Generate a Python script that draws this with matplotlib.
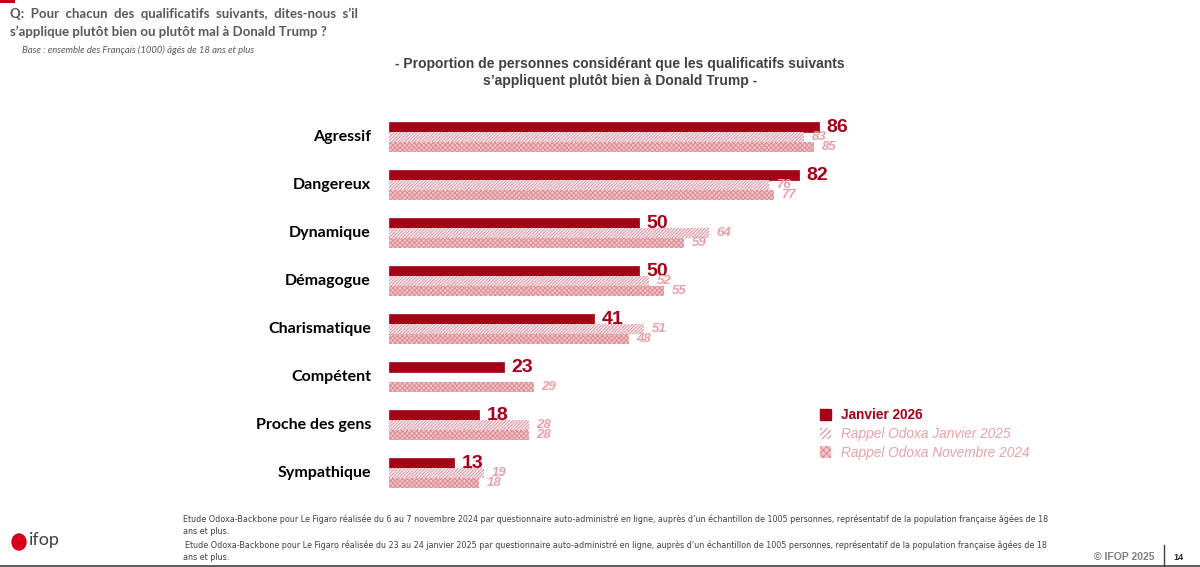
import numpy as np
import matplotlib
matplotlib.use("Agg")
import matplotlib.pyplot as plt
from matplotlib.patches import Rectangle, Ellipse
from matplotlib.lines import Line2D

# Données
categories = ["Agressif", "Dangereux", "Dynamique", "Démagogue",
              "Charismatique", "Compétent", "Proche des gens", "Sympathique"]
janv_2026 = [86, 82, 50, 50, 41, 23, 18, 13]
janv_2025 = [83, 76, 64, 52, 51, None, 28, 19]
nov_2024 = [85, 77, 59, 55, 48, 29, 28, 18]

series_labels = ["Janvier 2026", "Rappel Odoxa Janvier 2025", "Rappel Odoxa Novembre 2024"]

DARK = "#A50018"
PINK = "#E08E98"
PINK_TXT = "#E8A0A8"
PINK_FILL = "#F3C9CE"
GREY = "#595959"

plt.rcParams["hatch.linewidth"] = 0.8

W, H = 1200, 567
fig = plt.figure(figsize=(W / 100, H / 100), dpi=100)
fig.patch.set_facecolor("white")


def fx(px):
    return px / W


def fy(py):
    return 1 - py / H


# axe principal : 0 -> x=389px, 100 -> x=889px ; groupes tous les 48px
ax = fig.add_axes([fx(389), fy(497), fx(500), (497 - 113) / H])
ax.set_xlim(0, 100)
ax.set_ylim(7.5, -0.5)
ax.axis("off")

y = np.arange(len(categories))
bh = 10 / 48
off = 10 / 48

ax.barh(y - off, janv_2026, height=bh, color=DARK, edgecolor=DARK, linewidth=0.5)

y25 = [yy for yy, v in zip(y, janv_2025) if v is not None]
v25 = [v for v in janv_2025 if v is not None]
ax.barh(y25, v25, height=bh, color="white", edgecolor=PINK,
        hatch="//////////", linewidth=0)
ax.barh(y + off, nov_2024, height=bh, color=PINK_FILL, edgecolor=PINK,
        hatch="xxxxxxx", linewidth=0)

for yy, v in zip(y, janv_2026):
    ax.text(v + 1.5, yy - off, str(v), ha="left", va="center",
            fontsize=14, fontweight="bold", color=DARK, family="Liberation Sans")
for yy, v in zip(y25, v25):
    ax.text(v + 1.5, yy + 0.01, str(v), ha="left", va="center",
            fontsize=9.5, fontstyle="italic", fontweight="bold", color=PINK_TXT,
            family="Liberation Sans")
for yy, v in zip(y, nov_2024):
    ax.text(v + 1.5, yy + off + 0.01, str(v), ha="left", va="center",
            fontsize=9.5, fontstyle="italic", fontweight="bold", color=PINK_TXT,
            family="Liberation Sans")

for yy, c in zip(y, categories):
    ax.text(-3.6, yy, c, ha="right", va="center", fontsize=11.5,
            fontweight="bold", color="black", family="Lato")

# légende
h1 = Rectangle((0, 0), 1, 1, facecolor=DARK, edgecolor=DARK)
h2 = Rectangle((0, 0), 1, 1, facecolor="white", edgecolor=PINK, hatch="//////", linewidth=0)
h3 = Rectangle((0, 0), 1, 1, facecolor=PINK_FILL, edgecolor=PINK, hatch="xxxxx", linewidth=0)
leg = fig.legend([h1, h2, h3], series_labels, loc="upper left",
                 bbox_to_anchor=(fx(808), fy(396)), frameon=False,
                 handlelength=0.8, handleheight=0.9, handletextpad=0.7,
                 labelspacing=0.35, prop={"family": "Liberation Sans", "size": 9.8})
for i, t in enumerate(leg.get_texts()):
    if i == 0:
        t.set_color(DARK)
        t.set_fontweight("bold")
    else:
        t.set_color(PINK_TXT)
        t.set_fontstyle("italic")

# titre du graphique
fig.text(fx(620), fy(64), "- Proportion de personnes considérant que les qualificatifs suivants",
         ha="center", va="center", fontsize=10, fontweight="bold", color="#404040",
         family="Liberation Sans")
fig.text(fx(620), fy(81), "s’appliquent plutôt bien à Donald Trump -",
         ha="center", va="center", fontsize=10, fontweight="bold", color="#404040",
         family="Liberation Sans")

# question
fig.text(fx(10), fy(14), "Q:  Pour  chacun  des  qualificatifs  suivants,  dites-nous  s’il",
         ha="left", va="center", fontsize=9.5, fontweight="bold", color=GREY, family="Lato")
fig.text(fx(10), fy(32), "s’applique plutôt bien ou plutôt mal à Donald Trump ?",
         ha="left", va="center", fontsize=9.5, fontweight="bold", color=GREY, family="Lato")
fig.text(fx(22), fy(50), "Base : ensemble des Français (1000) âgés de 18 ans et plus",
         ha="left", va="center", fontsize=6.8, fontstyle="italic", color=GREY, family="Lato")

# notes de bas de page
notes = [
    (183, 519, "Etude Odoxa-Backbone pour Le Figaro réalisée du 6 au 7 novembre 2024 par questionnaire auto-administré en ligne, auprès d’un échantillon de 1005 personnes, représentatif de la population française âgées de 18"),
    (183, 532, "ans et plus."),
    (185, 545, "Etude Odoxa-Backbone pour Le Figaro réalisée du 23 au 24 janvier 2025 par questionnaire auto-administré en ligne, auprès d’un échantillon de 1005 personnes, représentatif de la population française âgées de 18"),
    (183, 558, "ans et plus."),
]
for x0, y0, t in notes:
    fig.text(fx(x0), fy(y0), t, ha="left", va="center", fontsize=5.75,
             color="#404040", family="Liberation Sans Narrow")

fig.text(fx(1155), fy(557), "© IFOP 2025", ha="right", va="center", fontsize=7.5,
         fontweight="bold", color="#7F7F7F", family="Liberation Sans")
fig.text(fx(1178), fy(557), "14", ha="center", va="center", fontsize=6.5,
         fontweight="bold", color="#262626", family="Liberation Sans")
fig.add_artist(Line2D([fx(1164), fx(1164)], [fy(545), fy(566)], color="#404040", lw=1))
fig.add_artist(Line2D([0, 1], [fy(566), fy(566)], color="#404040", lw=1.2))

# petit repère rouge en haut à gauche
fig.add_artist(Rectangle((0, fy(3)), fx(15), 3 / H, color="#C0001A", lw=0))

# logo ifop (approximation)
fig.add_artist(Ellipse((fx(19), fy(542)), 14 / W, 16 / H, color="#D7001C",
                       transform=fig.transFigure))
fig.text(fx(29), fy(540), "ifop", ha="left", va="center", fontsize=13,
         color="#404040", family="Lato")

fig.savefig("out.png", dpi=100)
